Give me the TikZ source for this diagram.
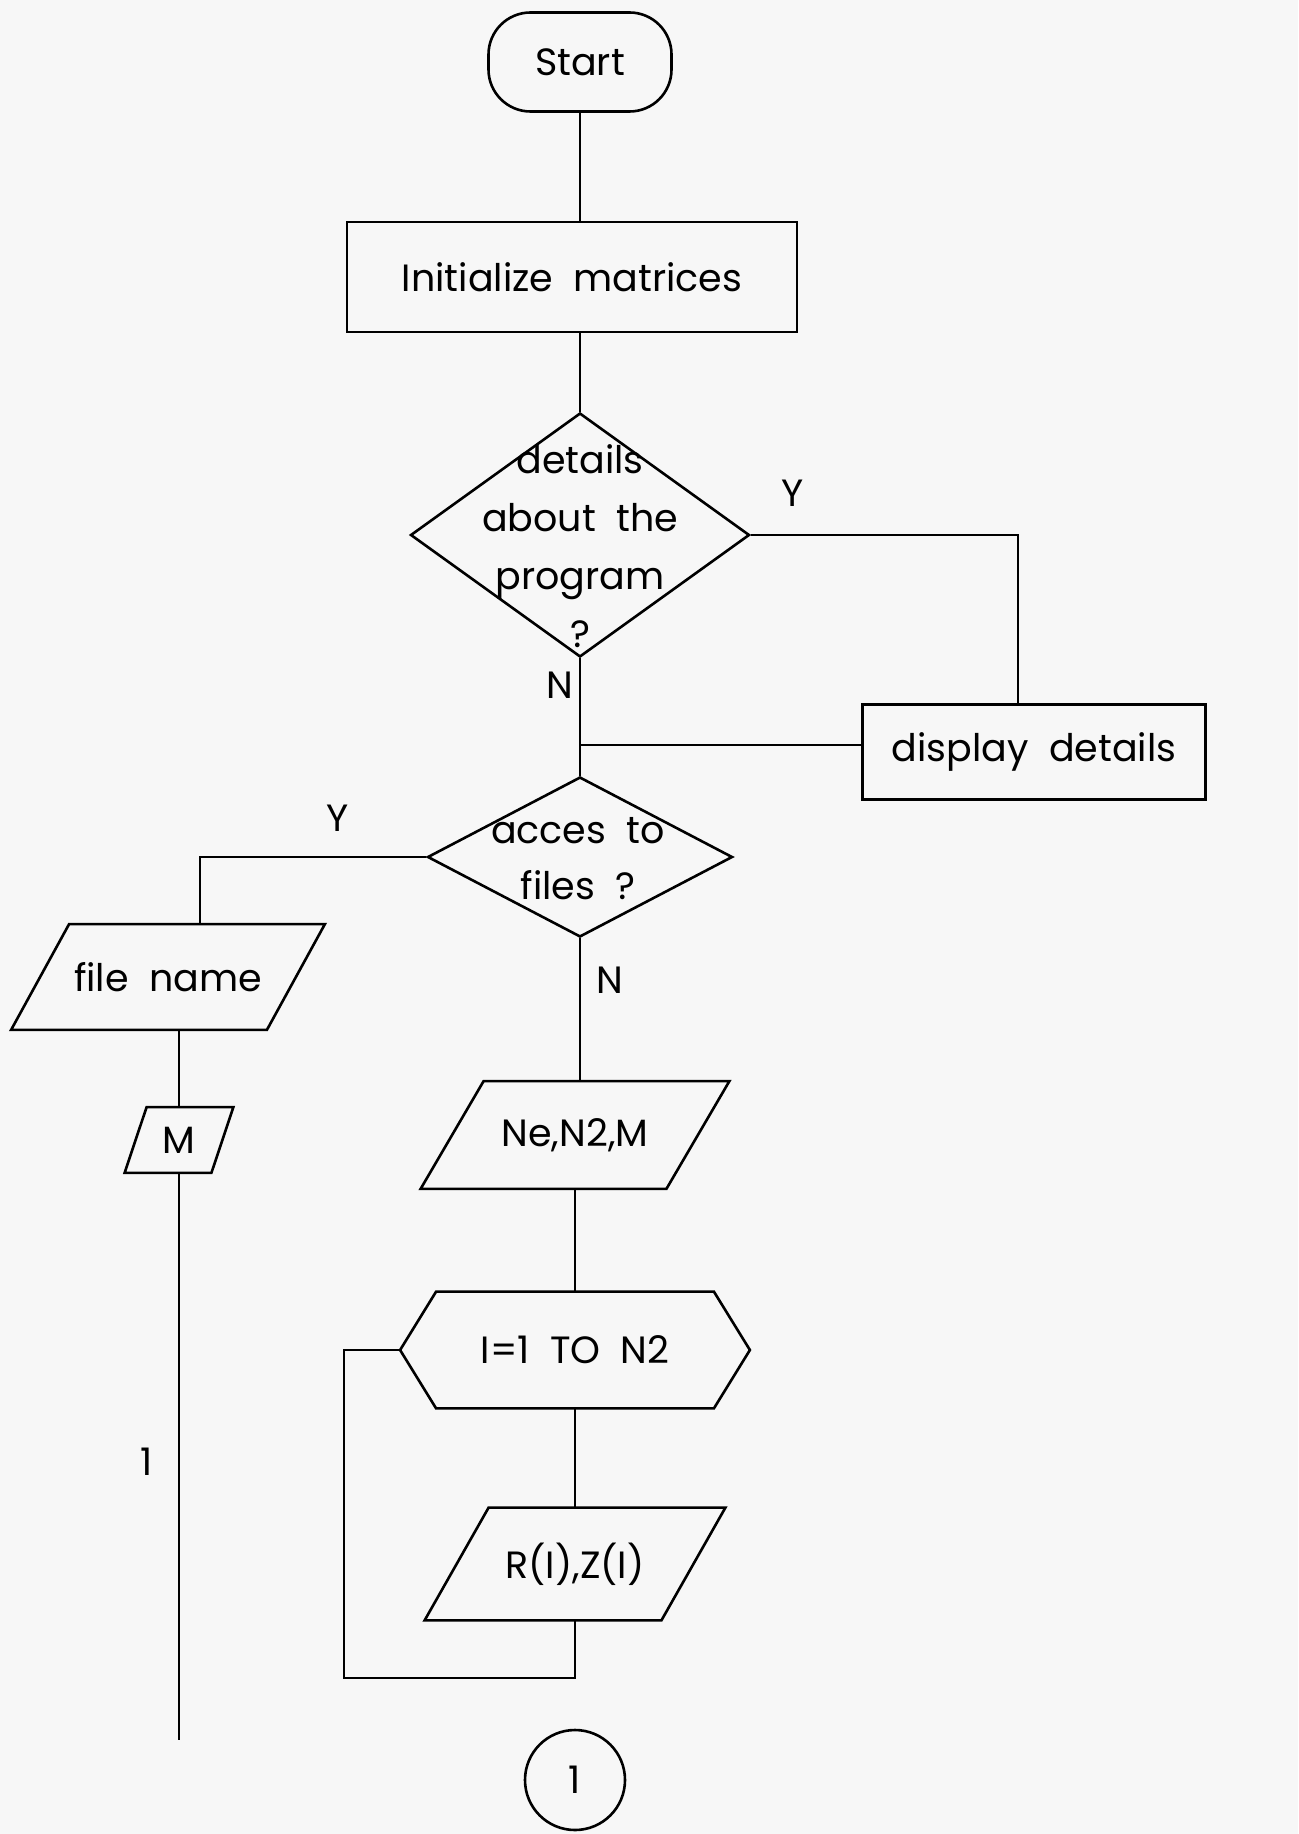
\documentclass[tikz,border=0pt]{standalone}
\usepackage{fontspec}
\setmainfont{Poppins}
\usetikzlibrary{shapes.geometric}
\def\ppx{0.5pt}
\begin{document}
\begin{tikzpicture}[x=0.5pt,y=-0.5pt,
  conn/.style={line width=1.3pt},
  lbl/.style={font=\fontsize{19}{23}\selectfont, inner sep=0pt},
  box/.style={draw, line width=1.3pt, rectangle, inner sep=0pt, align=center, font=\fontsize{19}{23}\selectfont},
  shell/.style={rectangle, inner sep=0pt, align=center, font=\fontsize{19}{23}\selectfont},
  dec/.style={draw, diamond, inner sep=0pt, line width=1.3pt},
  dectext/.style={align=center, font=\fontsize{19}{29}\selectfont, inner sep=0pt}]
\fill[black!3] (0,0) rectangle (1298,1834);
\useasboundingbox (0,0) rectangle (1298,1834);

% main column
\node[box, rounded corners=21pt, minimum width=183*\ppx, minimum height=99*\ppx] (start) at (580,62) {Start};
\node[box, minimum width=450*\ppx, minimum height=110*\ppx] (init) at (572,277) {Initialize\ \ matrices};
\node[dec, minimum width=339*\ppx, minimum height=244*\ppx] (d1) at (580,535) {};
\node[dectext] (d1t) at (580,546) {details\\about\ \ the\\program\\?};
\node[box, minimum width=343*\ppx, minimum height=95*\ppx] (disp) at (1034,752) {display\ \ details};
\node[dec, minimum width=305*\ppx, minimum height=160*\ppx] (d2) at (580,857) {};
\node[dectext, font=\fontsize{19}{28}\selectfont] (d2t) at (578,859) {acces\ \ to\\files\ \ ?};

% parallelogram Ne,N2,M
\node[shell, minimum width=245*\ppx, minimum height=107*\ppx] (ne) at (575,1135) {Ne,N2,M};
\draw[conn] ([xshift=15.75pt]ne.north west) -- ([xshift=15.75pt]ne.north east) -- ([xshift=-15.75pt]ne.south east) -- ([xshift=-15.75pt]ne.south west) -- cycle;

% hexagon loop
\node[shell, minimum width=277*\ppx, minimum height=116*\ppx] (hex) at (575,1350) {I=1\ \ TO\ \ N2};
\draw[conn] (hex.north west) -- (hex.north east) -- ([xshift=18pt]hex.east) -- (hex.south east) -- (hex.south west) -- ([xshift=-18pt]hex.west) -- cycle;

% parallelogram R(I),Z(I)
\node[shell, minimum width=236*\ppx, minimum height=112*\ppx] (rz) at (575,1564) {R(I),Z(I)};
\draw[conn] ([xshift=16pt]rz.north west) -- ([xshift=16pt]rz.north east) -- ([xshift=-16pt]rz.south east) -- ([xshift=-16pt]rz.south west) -- cycle;

\node[draw, circle, line width=1.3pt, minimum size=100*\ppx, inner sep=0pt, font=\fontsize{19}{23}\selectfont] (c1) at (575,1780) {1};

% left column
\node[shell, minimum width=255*\ppx, minimum height=105*\ppx] (fname) at (168,977) {file\ \ name};
\draw[conn] ([xshift=14.5pt]fname.north west) -- ([xshift=14.5pt]fname.north east) -- ([xshift=-14.5pt]fname.south east) -- ([xshift=-14.5pt]fname.south west) -- cycle;
\node[shell, minimum width=86*\ppx, minimum height=65*\ppx] (M) at (179,1140) {M};
\draw[conn] ([xshift=5.5pt]M.north west) -- ([xshift=5.5pt]M.north east) -- ([xshift=-5.5pt]M.south east) -- ([xshift=-5.5pt]M.south west) -- cycle;
\coordinate (lend) at (179,1740);

% labels
\node[lbl] (y1) at (793,493) {Y};
\node[lbl] (n1) at (560,685) {N};
\node[lbl] (y2) at (338,818) {Y};
\node[lbl] (n2) at (610,980) {N};
\node[lbl] (one) at (147,1462) {1};

% connectors
\draw[conn] (start.south) -- (start.south |- init.north);
\draw[conn] (start.south |- init.south) -- (d1.north);
\draw[conn] (d1.east) -| ([xshift=-8pt]disp.north);
\draw[conn] ([yshift=3.5pt]disp.west) -- ([yshift=3.5pt]disp.west -| d1.south);
\draw[conn] (d1.south) -- (d2.north);
\draw[conn] (d2.west) -| ([xshift=16pt]fname.north);
\draw[conn] (d2.south) -- (d2.south |- ne.north);
\draw[conn] (ne.south) -- (hex.north);
\draw[conn] (hex.south) -- (rz.north);
\coordinate (lp) at (344,1678);
\draw[conn] ([xshift=-18pt]hex.west) -| (lp) -| (rz.south);
\draw[conn] (fname.south -| M.north) -- (M.north);
\draw[conn] (M.south) -- (lend);
\end{tikzpicture}
\end{document}
